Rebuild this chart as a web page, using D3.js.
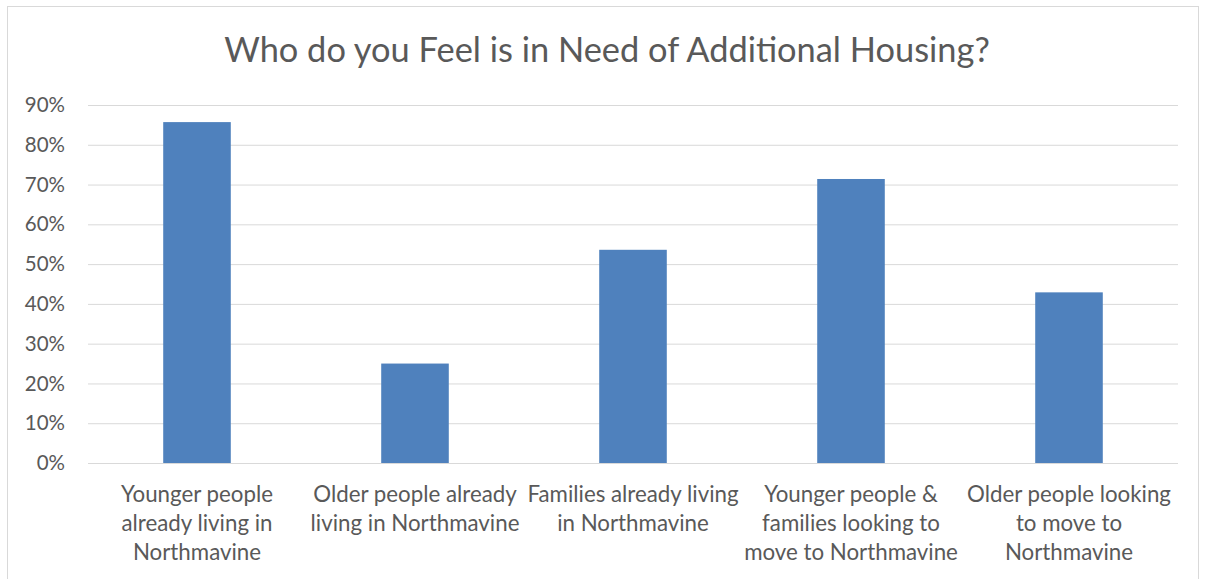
<!DOCTYPE html>
<html><head><meta charset="utf-8">
<script src="https://cdn.jsdelivr.net/npm/d3@7"></script>
<style>body{margin:0;background:#fff}svg{display:block}</style>
</head><body>
<svg id="c" width="1205" height="579"></svg>
<script>
const categories = [
  ["Younger people", "already living in", "Northmavine"],
  ["Older people already", "living in Northmavine"],
  ["Families already living", "in Northmavine"],
  ["Younger people &", "families looking to", "move to Northmavine"],
  ["Older people looking", "to move to", "Northmavine"]
];
const values = [0.857, 0.25, 0.536, 0.714, 0.429];
const tickValues = [0, 0.1, 0.2, 0.3, 0.4, 0.5, 0.6, 0.7, 0.8, 0.9];
const title = "Who do you Feel is in Need of Additional Housing?";

const font = "Lato, 'Open Sans', sans-serif";
const svg = d3.select("#c");
svg.append("rect").attr("x", 7.5).attr("y", 6.5).attr("width", 1191).attr("height", 590)
  .attr("fill", "#fff").attr("stroke", "#d9d9d9");

const m = {l: 88, r: 1178, t: 105, b: 463};
const x = d3.scaleBand().domain(d3.range(categories.length)).range([m.l, m.r]).paddingInner(0.69).paddingOuter(0.345);
const y = d3.scaleLinear().domain([0, 0.9]).range([m.b, m.t]);

svg.append("text").attr("x", 607).attr("y", 62).attr("text-anchor", "middle")
  .attr("font-family", font).attr("font-size", 34.4).attr("fill", "#595959").text(title);

const ya = svg.append("g").attr("transform", `translate(${m.l},0)`)
  .call(d3.axisLeft(y).tickValues(tickValues).tickFormat(d3.format(".0%")).tickSize(-(m.r - m.l)).tickPadding(23));
ya.select(".domain").remove();
ya.selectAll(".tick line").attr("stroke", "#d9d9d9").attr("stroke-width", 1);
ya.selectAll(".tick text").attr("font-family", font).attr("font-size", 20.5).attr("fill", "#595959");

svg.append("g").selectAll("rect").data(values).join("rect")
  .attr("x", (d, i) => x(i)).attr("width", x.bandwidth())
  .attr("y", d => y(d)).attr("height", d => y(0) - y(d)).attr("fill", "#4f81bd");

const lab = svg.append("g").selectAll("text").data(categories).join("text")
  .attr("text-anchor", "middle").attr("font-family", font).attr("font-size", 22.3).attr("fill", "#595959")
  .attr("transform", (d, i) => `translate(${x(i) + x.bandwidth() / 2},${m.b + 39})`);
lab.selectAll("tspan").data(d => d).join("tspan").attr("x", 0).attr("dy", (d, j) => j ? 29 : 0).text(d => d);
</script>
</body></html>
